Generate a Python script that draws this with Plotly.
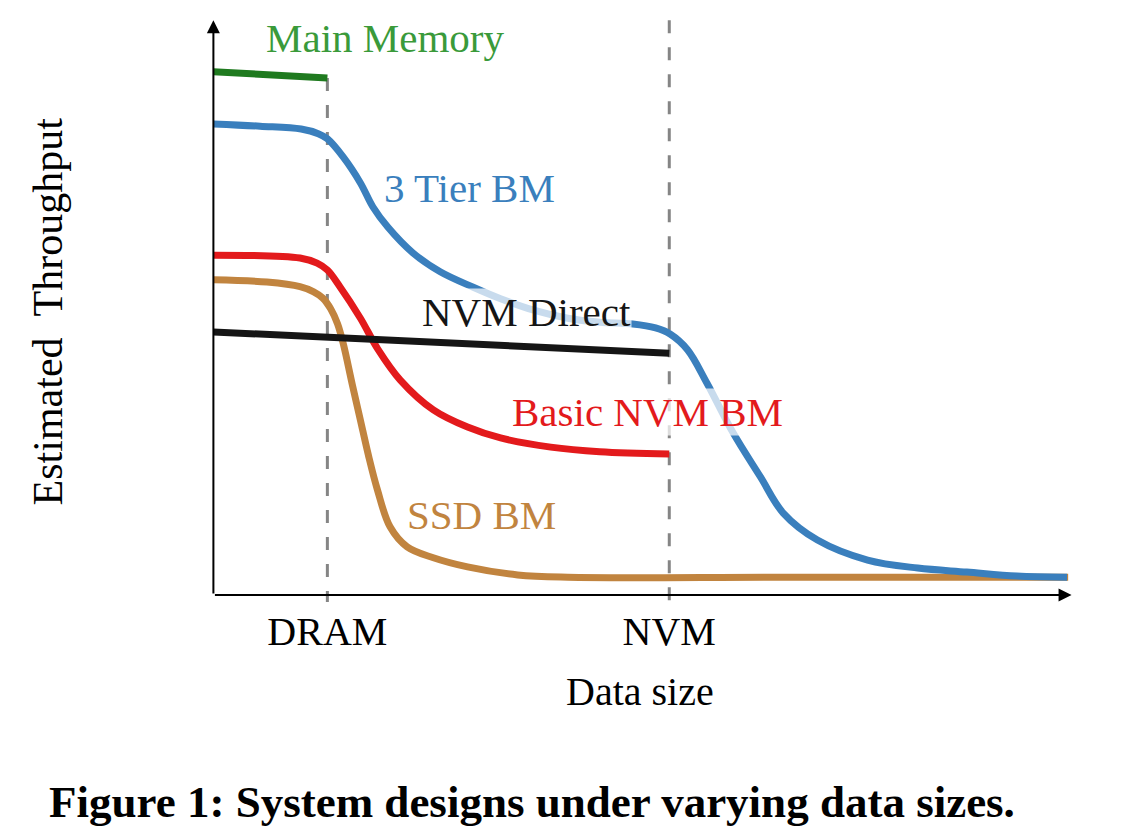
import plotly.graph_objects as go

# ---- data (x: data size, DRAM=1, NVM=4; y: estimated throughput, arbitrary units) ----
mm_x = [0.0, 1.0]
mm_y = [91.3, 90.2]

tier3_x = [0.0, 0.41, 0.77, 0.92, 1.0, 1.14, 1.29, 1.40, 1.53, 1.75, 1.99, 2.28, 2.52, 2.81,
           3.11, 3.39, 3.68, 3.88, 4.01, 4.16, 4.33, 4.56, 4.80, 5.0, 5.30, 5.74, 6.18, 6.61, 7.05, 7.49]
tier3_y = [82.2, 81.8, 81.3, 80.5, 79.6, 76.4, 71.9, 67.7, 64.2, 59.7, 56.4, 53.7, 51.7, 49.7,
           48.3, 47.6, 47.3, 46.6, 45.5, 42.8, 37.0, 28.3, 20.6, 14.3, 9.6, 6.1, 4.7, 4.0, 3.3, 3.1]

basic_x = [0.0, 0.76, 0.91, 1.0, 1.11, 1.29, 1.44, 1.64, 1.93, 2.23, 2.52, 2.96, 3.39, 4.0]
basic_y = [59.3, 58.8, 57.9, 56.7, 53.8, 48.3, 43.0, 37.5, 32.3, 29.3, 27.4, 25.8, 25.0, 24.6]

ssd_x = [0.0, 0.47, 0.76, 0.88, 0.96, 1.03, 1.09, 1.14, 1.22, 1.29, 1.36, 1.44, 1.55, 1.70, 1.93,
         2.23, 2.67, 3.11, 5.0, 7.5]
ssd_y = [55.0, 54.6, 53.8, 52.9, 51.8, 49.9, 47.3, 43.8, 36.6, 30.5, 24.4, 18.3, 11.9, 8.4, 6.5,
         4.9, 3.5, 3.1, 3.1, 3.1]

nvmd_x = [0.0, 4.0]
nvmd_y = [45.9, 42.2]

tick_vals = [1, 4]
tick_text = ["DRAM", "NVM"]
dram_line_top = 90.2
nvm_line_top = 100.3

series_labels = ["Main Memory", "3 Tier BM", "NVM Direct", "Basic NVM BM", "SSD BM"]
label_x = [1.51, 2.25, 2.75, 3.81, 2.35]
label_y = [97.2, 71.1, 49.3, 32.0, 14.0]

C_BLUE = "#3a7fbd"
C_RED = "#e31a1c"
C_ORANGE = "#c1843f"
C_GREEN_LINE = "#1f7a1f"
C_GREEN_TEXT = "#3a9a3a"
C_BLACK = "#151515"
C_GRAY = "#858585"
label_colors = [C_GREEN_TEXT, C_BLUE, C_BLACK, C_RED, C_ORANGE]

FONT = "Liberation Serif"
Y_BOTTOM = -1.22
Y_TOP = 101.2
X_LEFT = -0.1
X_RIGHT = 7.56

# plot-area geometry (pixels) used only to place the out-of-axes texts in paper units
PX_PER_X = 114.0
PLOT_LEFT = 213 + X_LEFT * PX_PER_X
PLOT_W = (X_RIGHT - X_LEFT) * PX_PER_X
PLOT_TOP = 15
PLOT_BOTTOM = 602
PLOT_H = PLOT_BOTTOM - PLOT_TOP


def px2paper_x(px):
    return (px - PLOT_LEFT) / PLOT_W


def px2paper_y(py):
    return (PLOT_BOTTOM - py) / PLOT_H


fig = go.Figure()

# dashed reference lines
for xv, top in zip(tick_vals, [dram_line_top, nvm_line_top]):
    fig.add_trace(go.Scatter(x=[xv, xv], y=[top, Y_BOTTOM], mode="lines",
                             line=dict(color=C_GRAY, width=3, dash="13px,14px"),
                             hoverinfo="skip", showlegend=False))


def add_curve(x, y, color, spline=True):
    fig.add_trace(go.Scatter(x=x, y=y, mode="lines",
                             line=dict(color=color, width=7,
                                       shape="spline" if spline else "linear",
                                       smoothing=1.0),
                             hoverinfo="skip", showlegend=False))


add_curve(ssd_x, ssd_y, C_ORANGE)
add_curve(tier3_x, tier3_y, C_BLUE)
add_curve(basic_x, basic_y, C_RED)
add_curve(nvmd_x, nvmd_y, C_BLACK, spline=False)
add_curve(mm_x, mm_y, C_GREEN_LINE, spline=False)

annotations = []
# series labels
for t, xv, yv, c in zip(series_labels, label_x, label_y, label_colors):
    annotations.append(dict(x=xv, y=yv, xref="x", yref="y", text=t, showarrow=False,
                            font=dict(family=FONT, size=41, color=c),
                            bgcolor="rgba(255,255,255,0.72)", borderpad=0,
                            xanchor="center", yanchor="middle"))

# axis arrows
annotations.append(dict(x=7.53, y=0, ax=0, ay=0, xref="x", yref="y", axref="x", ayref="y",
                        text="", showarrow=True, arrowhead=2, arrowsize=1.3, arrowwidth=2,
                        arrowcolor="black", standoff=0, startstandoff=0))
annotations.append(dict(x=0, y=100.3, ax=0, ay=0, xref="x", yref="y", axref="x", ayref="y",
                        text="", showarrow=True, arrowhead=2, arrowsize=1.3, arrowwidth=2,
                        arrowcolor="black", standoff=0, startstandoff=0))

# axis titles
annotations.append(dict(x=px2paper_x(640), y=px2paper_y(691), xref="paper", yref="paper",
                        text="Data size", showarrow=False,
                        font=dict(family=FONT, size=40, color="black"),
                        xanchor="center", yanchor="middle"))
annotations.append(dict(x=px2paper_x(48), y=px2paper_y(311), xref="paper", yref="paper",
                        text="Estimated\u00a0\u00a0Throughput", showarrow=False, textangle=-90,
                        font=dict(family=FONT, size=42, color="black"),
                        xanchor="center", yanchor="middle"))
# caption
annotations.append(dict(x=px2paper_x(532), y=px2paper_y(802), xref="paper", yref="paper",
                        text="<b>Figure 1: System designs under varying data sizes.</b>",
                        showarrow=False, font=dict(family=FONT, size=45, color="black"),
                        xanchor="center", yanchor="middle"))

fig.update_layout(
    width=1122, height=836,
    margin=dict(l=PLOT_LEFT, r=1122 - (PLOT_LEFT + PLOT_W), t=PLOT_TOP, b=836 - PLOT_BOTTOM),
    paper_bgcolor="white", plot_bgcolor="white",
    xaxis=dict(range=[X_LEFT, X_RIGHT], showgrid=False, zeroline=False, showline=False,
               tickvals=tick_vals, ticktext=tick_text, ticks="",
               tickfont=dict(family=FONT, size=40, color="black"), ticklabelstandoff=2),
    yaxis=dict(range=[Y_BOTTOM, Y_TOP], showgrid=False, zeroline=False, showline=False,
               showticklabels=False, ticks=""),
    annotations=annotations,
    showlegend=False,
)

fig.write_html("out.html")
